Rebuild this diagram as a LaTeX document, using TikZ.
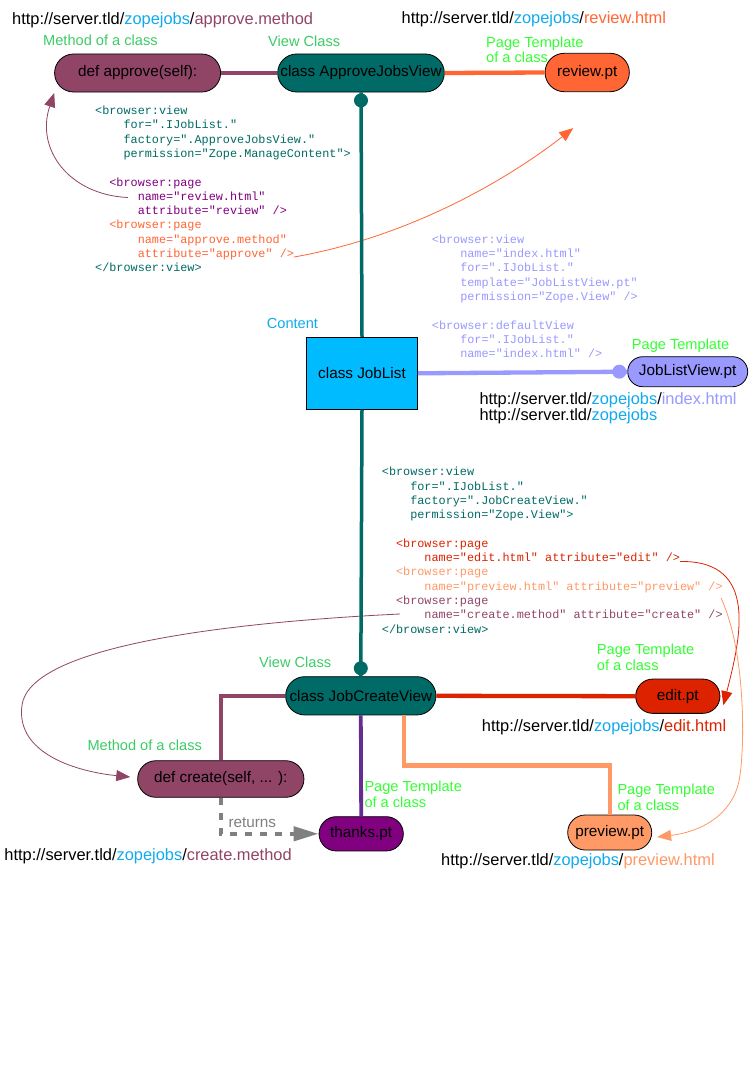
\documentclass[tikz,border=0pt]{standalone}
\usepackage{fontspec}
\setmainfont{Liberation Sans}
\setmonofont{Liberation Mono}
\usetikzlibrary{shapes.misc,arrows.meta}

% palette
\definecolor{cTeal}{HTML}{006B66}
\definecolor{cMauve}{HTML}{914566}
\definecolor{cOrange}{HTML}{FF6633}
\definecolor{cCyanTxt}{HTML}{11AAEE}
\definecolor{cCyanBox}{HTML}{00BBFF}
\definecolor{cPeri}{HTML}{9999FF}
\definecolor{cRed}{HTML}{DD2200}
\definecolor{cSalmon}{HTML}{FF9966}
\definecolor{cPurple}{HTML}{800080}
\definecolor{cPurpleLine}{HTML}{662D91}
\definecolor{cGreen}{HTML}{3CCC66}
\definecolor{cLime}{HTML}{33FF33}
\definecolor{cGray}{HTML}{808080}

\newcommand\cdfont{\ttfamily\fontsize{11.83}{14.3}\selectfont}
\newcommand\ind[1]{\hspace*{#1em}}
\newcommand\zurl[2]{http://server.tld/\textcolor{cCyanTxt}{zopejobs}/\textcolor{#1}{#2}}

\tikzset{
  pill/.style={rounded rectangle, draw=black, line width=0.8pt, inner sep=0pt,
    text=black, font=\fontsize{15.3}{18}\selectfont},
  lbl/.style={anchor=base west, inner sep=0pt, font=\fontsize{14.6}{17}\selectfont},
  lbltwo/.style={anchor=north west, inner sep=0pt, align=left,
    font=\fontsize{14.6}{13.6}\selectfont},
  urltxt/.style={anchor=base west, inner sep=0pt, font=\fontsize{16.4}{19}\selectfont},
  code/.style={anchor=north west, inner sep=0pt, align=left, font=\cdfont},
  link/.style={line width=4.3pt},
  pointer/.style={line width=0.8pt, -{Triangle[length=14pt,width=11pt]}},
}

\begin{document}
\begin{tikzpicture}[x=1pt,y=-1pt]
\fill[white] (0,0) rectangle (752,1073);
\useasboundingbox (0,0) rectangle (752,1073);

% ---------- nodes ----------
\node[pill, fill=cMauve, minimum width=166pt, minimum height=38pt] (approve) at (137.6,73) {def approve(self):};
\node[pill, fill=cTeal, minimum width=166.6pt, minimum height=38pt] (ajv) at (361,73) {class ApproveJobsView};
\node[pill, fill=cOrange, minimum width=84.3pt, minimum height=38.4pt] (review) at (587.2,72.5) {review.pt};

\node[draw=black, line width=1pt, fill=cCyanBox, minimum width=110.6pt, minimum height=72pt,
      inner sep=0pt, font=\fontsize{15.3}{18}\selectfont] (joblist) at (362,373.3) {class JobList};
\node[pill, fill=cPeri, minimum width=120pt, minimum height=30pt] (jlv) at (687.7,371.7) {JobListView.pt};

\node[pill, fill=cTeal, minimum width=150.3pt, minimum height=38.3pt] (jcv) at (360.8,695.8) {class JobCreateView};
\node[pill, fill=cRed, minimum width=84.3pt, minimum height=34.3pt] (edit) at (677.8,696.2) {edit.pt};
\node[pill, fill=cMauve, minimum width=166.3pt, minimum height=36.6pt] (create) at (220.8,779) {def create(self, ... ):};
\node[pill, fill=cPurple, minimum width=84.3pt, minimum height=34.3pt] (thanks) at (361.2,833.8) {thanks.pt};
\node[pill, fill=cSalmon, minimum width=84pt, minimum height=35pt] (preview) at (609.7,832.5) {preview.pt};

% ---------- labels ----------
\node[urltxt] (u1) at (12,25) {\zurl{cMauve}{approve.method}};
\node[urltxt] (u2) at (401.5,23.3) {\zurl{cOrange}{review.html}};
\node[lbl, text=cGreen] (l1) at (43,46) {Method of a class};
\node[lbl, text=cGreen] (l2) at (268,47) {View Class};
\node[lbltwo, text=cLime] (l3) at (486,36.5) {\strut Page Template\\\strut of a class};

\node[lbl, text=cCyanTxt] (l4) at (266.7,328.3) {Content};
\node[lbl, text=cLime] (l5) at (631.7,349) {Page Template};
\node[urltxt] (u3) at (479.3,404.3) {\zurl{cPeri}{index.html}};
\node[urltxt] (u4) at (479.3,420) {http://server.tld/\textcolor{cCyanTxt}{zopejobs}};

\node[lbl, text=cGreen] (l6) at (259,667.7) {View Class};
\node[lbltwo, text=cLime] (l7) at (596.7,644) {\strut Page Template\\\strut of a class};
\node[urltxt] (u5) at (481.7,731.7) {\zurl{cRed}{edit.html}};
\node[lbl, text=cGreen] (l8) at (87.3,750) {Method of a class};
\node[lbltwo, text=cLime] (l9) at (364.3,781.2) {\strut Page Template\\\strut of a class};
\node[lbltwo, text=cLime] (l10) at (617.3,783.8) {\strut Page Template\\\strut of a class};
\node[lbl, text=cGray, font=\fontsize{15.3}{18}\selectfont] (ret) at (228.3,827.7) {returns};
\node[urltxt] (u6) at (4.3,860) {\zurl{cMauve}{create.method}};
\node[urltxt] (u7) at (441,865) {\zurl{cSalmon}{preview.html}};

% ---------- ZCML listings ----------
\node[code, text=cTeal] (zcml1) at (95,104.3) {%
\strut<browser:view\\
\strut\ind{2.4}for=".IJobList."\\
\strut\ind{2.4}factory=".ApproveJobsView."\\
\strut\ind{2.4}permission="Zope.ManageContent">\\
\strut\\
\strut\ind{1.2}\textcolor{cPurple}{<browser:page}\\
\strut\ind{3.6}\textcolor{cPurple}{name="review.html"}\\
\strut\ind{3.6}\textcolor{cPurple}{attribute="review" />}\\
\strut\ind{1.2}\textcolor{cOrange}{<browser:page}\\
\strut\ind{3.6}\textcolor{cOrange}{name="approve.method"}\\
\strut\ind{3.6}\textcolor{cOrange}{attribute="approve" />}\\
\strut</browser:view>};

\node[code, text=cPeri] (zcml2) at (431.7,233) {%
\strut<browser:view\\
\strut\ind{2.4}name="index.html"\\
\strut\ind{2.4}for=".IJobList."\\
\strut\ind{2.4}template="JobListView.pt"\\
\strut\ind{2.4}permission="Zope.View" />\\
\strut\\
\strut<browser:defaultView\\
\strut\ind{2.4}for=".IJobList."\\
\strut\ind{2.4}name="index.html" />};

\node[code, text=cTeal] (zcml3) at (381.7,465.5) {%
\strut<browser:view\\
\strut\ind{2.4}for=".IJobList."\\
\strut\ind{2.4}factory=".JobCreateView."\\
\strut\ind{2.4}permission="Zope.View">\\
\strut\\
\strut\ind{1.2}\textcolor{cRed}{<browser:page}\\
\strut\ind{3.6}\textcolor{cRed}{name="edit.html" attribute="edit" />}\\
\strut\ind{1.2}\textcolor{cSalmon}{<browser:page}\\
\strut\ind{3.6}\textcolor{cSalmon}{name="preview.html" attribute="preview" />}\\
\strut\ind{1.2}\textcolor{cMauve}{<browser:page}\\
\strut\ind{3.6}\textcolor{cMauve}{name="create.method" attribute="create" />}\\
\strut</browser:view>};

% ---------- attribute pointers ----------
\coordinate (attrReview) at (128,197.5);
\coordinate (attrApprove) at (294,257);
\coordinate (attrEdit) at (680,561.5);
\coordinate (attrPreview) at (721,598);
\coordinate (attrCreate) at (400,614);
\coordinate (tipApprove) at ([xshift=0pt,yshift=-20pt]approve.west);
\coordinate (tipReview) at ([xshift=-14pt,yshift=-36pt]review.south);
\coordinate (tipEdit) at ([xshift=3pt,yshift=-9pt]edit.east);
\coordinate (tipPreview) at ([xshift=5pt,yshift=-4.5pt]preview.east);
\coordinate (tipCreate) at ([xshift=-7pt,yshift=2pt]create.west);

\draw[pointer, cMauve] (attrReview) .. controls (70,195) and (35,150) .. (tipApprove);
\draw[pointer, cOrange] (attrApprove) .. controls (420,235) and (520,170) .. (tipReview);
\draw[pointer, cRed] (attrEdit) .. controls (760,560) and (740,640) .. (tipEdit);
\draw[pointer, cSalmon] (attrPreview) .. controls (745,650) and (745,740) .. (740,775)
      .. controls (735,815) and (700,832) .. (tipPreview);
\draw[pointer, cMauve] (attrCreate) -- (380,615) .. controls (200,625) and (30,650) .. (22,705)
      .. controls (15,755) and (80,772) .. (tipCreate);

% ---------- connectors ----------
\draw[cMauve, link] (approve.east) -- (ajv.west);
\draw[cOrange, link] (ajv.east) -- (review.west);
\draw[cTeal, line width=3.5pt] (ajv.south) -- (joblist.north);
\fill[cTeal] ([yshift=-8pt]ajv.south) circle (7pt);
\draw[cPeri, link] (joblist.east) -- (jlv.west);
\fill[cPeri] ([xshift=-8pt]jlv.west) circle (7pt);
\draw[cTeal, line width=3.5pt] (joblist.south) -- (jcv.north);
\fill[cTeal] ([yshift=8pt]jcv.north) circle (7pt);
\draw[cRed, link] (jcv.east) -- (edit.west);
\draw[cMauve, link] (jcv.west) -| (create.north);
\draw[cPurpleLine, line width=3.8pt] (jcv.south) -- (thanks.north);
\draw[cSalmon, link] ([xshift=43pt]jcv.south) -- ++(0,50) -| (preview.north);
\draw[cGray, line width=4.3pt, dash pattern=on 7pt off 8pt,
      -{Triangle[length=25pt,width=14pt]}] (create.south) |- (thanks.west);
\end{tikzpicture}
\end{document}
